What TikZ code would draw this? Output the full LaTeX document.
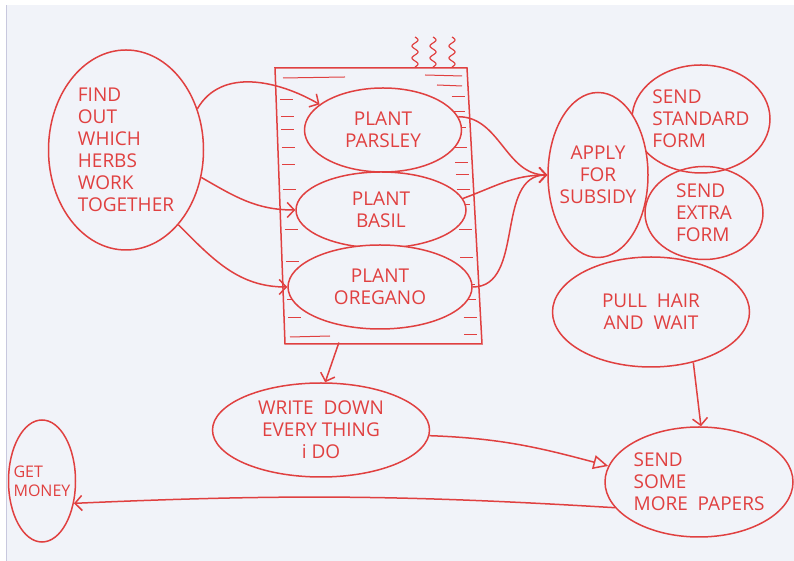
\documentclass[tikz,border=0pt]{standalone}
\usepackage{fontspec}
\setmainfont{Open Sans}
\usepackage{tikz}
\usetikzlibrary{arrows.meta,shapes.geometric,positioning}
\usepackage{xcolor}
\definecolor{hand}{RGB}{224,64,64}
\definecolor{paper}{RGB}{241,243,249}
\definecolor{edge}{RGB}{200,200,222}
\tikzstyle{bubble} = [ellipse, draw=hand, line width=1.5pt, inner sep=0pt, text=hand, align=center, font=\fontsize{19}{22}\selectfont]
\tikzstyle{arrow} = [line width=1.5pt, draw=hand, -{Straight Barb[length=7pt,width=15pt]}]
\tikzstyle{openarrow} = [line width=1.5pt, draw=hand, -{Triangle[open,length=15pt,width=14pt]}]
\tikzstyle{ruled} = [line width=1pt, draw=hand]

\begin{document}
\begin{tikzpicture}[x=1pt,y=1pt]
\useasboundingbox (0,0) rectangle (794,561);
% Paper
\fill[white] (0,0) rectangle (794,561);
\fill[paper] (6,0) rectangle (794,556);
\draw[edge, line width=1pt] (6,0) -- (6,556);

% Notebook and steam
\draw[ruled, line width=1.5pt] (275,493) -- (467,493) -- (482,217) -- (285,217) -- cycle;
\foreach \sx in {415,433,452}
  \draw[ruled, line width=1.2pt, domain=0:30, samples=40, smooth] plot ({\sx+3*sin(\x*30)}, {494+\x});
\foreach \y in {461,444,431,413,396,371,331,299,261,243}
  \draw[ruled] ({279+(493-\y)*0.036},\y) -- ++(13,0);
\foreach \y in {464,449,433,413,398,386,371,356,331,303,276,261,243,226}
  \draw[ruled] ({450+(493-\y)*0.054},\y) -- ++(13,0);
\draw[ruled] (283,483) -- (345,484);
\draw[ruled] (425,486) -- (462,485);
\draw[ruled] (437,476) -- (462,475);
\draw[ruled] (290,224) -- (330,225);

% Herbs
\node[bubble, fill=paper, minimum width=157, minimum height=84] (parsley) at (383,431) {PLANT\\PARSLEY};
\node[bubble, fill=paper, minimum width=170, minimum height=76] (basil) at (381,351) {PLANT\\BASIL};
\node[bubble, fill=paper, minimum width=184, minimum height=84] (oregano) at (380,274) {PLANT\\OREGANO};
\node[bubble, minimum width=155, minimum height=200, align=left] (find) at (126,411) {FIND\\OUT\\WHICH\\HERBS\\WORK\\TOGETHER};

% Subsidy
\node[bubble, minimum width=197, minimum height=110] (pull) at (651,249) {PULL\ \ HAIR\\AND\ \ WAIT};
\node[bubble, fill=paper, minimum width=118, minimum height=93, align=left] (extra) at (704,348) {SEND\\EXTRA\\FORM};
\node[bubble, minimum width=138, minimum height=108, align=left] (standard) at (701,442) {SEND\\STANDARD\\FORM};
\node[bubble, fill=paper, minimum width=100, minimum height=165, inner sep=-7pt] (apply) at (598,386) {APPLY\\FOR\\SUBSIDY};

% Bottom row
\node[bubble, minimum width=217, minimum height=94] (write) at (321,131) {WRITE\ \ DOWN\\EVERY THING\\i DO};
\node[bubble, minimum width=67, minimum height=122, align=left, inner sep=-6pt, font=\fontsize{16}{19}\selectfont] (money) at (42,80) {GET\\MONEY};
\node[bubble, minimum width=188, minimum height=110, align=left] (papers) at (699,79) {SEND\\SOME\\MORE\ \ PAPERS};

% Arrows
\draw[arrow] (find.30) to[out=60,in=150] (parsley.158);
\draw[arrow] (find.-20) to[out=-30,in=180] (basil.west);
\draw[arrow] (find.-55) to[out=-45,in=180] (oregano.west);
\draw[arrow] (parsley.10) to[out=0,in=180] (apply.west);
\draw[arrow] (basil.8) to[out=20,in=180] (apply.west);
\draw[arrow] (oregano.east) to[out=0,in=180] (apply.west);
\draw[arrow, shorten <=17pt] (oregano.228) -- (write.85);
\draw[openarrow] (write.-3) to[out=-2,in=165] (papers.170);
\draw[arrow] (pull.-50) -- (papers.88);
\draw[arrow] (papers.197) to[bend right=3] (money.-35);
\end{tikzpicture}
\end{document}
